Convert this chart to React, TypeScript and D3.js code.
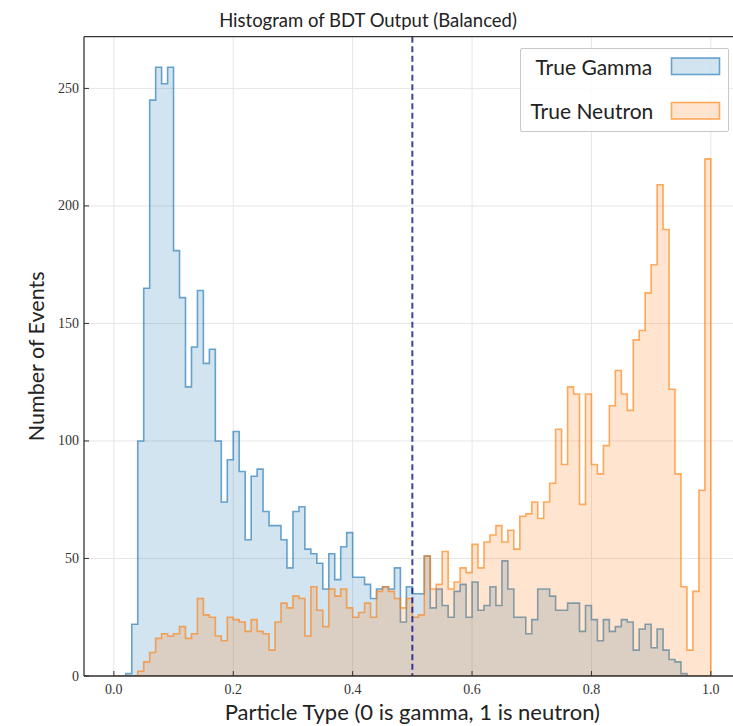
import React from "react";
import * as d3 from "d3";

// Counts per bin (100 bins of width 0.01 over [0, 1])
const gammaCounts = [
  0, 0, 1, 22, 100, 165, 245, 259, 252, 259,
  181, 161, 123, 140, 164, 133, 139, 100, 74, 92,
  104, 87, 58, 85, 88, 70, 64, 64, 58, 46,
  70, 72, 54, 52, 48, 37, 52, 41, 55, 61,
  42, 42, 39, 33, 37, 38, 37, 46, 23, 38,
  35, 35, 51, 29, 37, 30, 25, 36, 39, 25,
  40, 28, 30, 38, 30, 49, 37, 25, 25, 18,
  24, 37, 37, 34, 28, 28, 31, 31, 19, 30,
  24, 15, 24, 19, 21, 24, 23, 11, 20, 22,
  12, 20, 11, 7, 6, 1, 0, 0, 0, 0,
];
const neutronCounts = [
  0, 0, 0, 0, 2, 6, 10, 16, 18, 17,
  18, 21, 16, 18, 33, 26, 25, 17, 15, 25,
  24, 23, 19, 24, 19, 18, 11, 23, 31, 29,
  34, 33, 17, 38, 28, 21, 37, 34, 37, 29,
  25, 27, 31, 25, 36, 38, 36, 33, 29, 33,
  25, 26, 51, 37, 39, 53, 37, 40, 46, 44,
  56, 46, 57, 60, 64, 57, 62, 54, 68, 69,
  74, 67, 74, 82, 105, 90, 123, 120, 73, 120,
  90, 86, 98, 115, 130, 120, 113, 143, 147, 163,
  175, 209, 190, 122, 86, 38, 11, 36, 79, 220,
];
const xTicks = [0, 0.2, 0.4, 0.6, 0.8, 1.0];
const yTicks = [0, 50, 100, 150, 200, 250];
const threshold = 0.5;
const seriesLabels = ["True Gamma", "True Neutron"];
const titleText = "Histogram of BDT Output (Balanced)";
const xLabelText = "Particle Type (0 is gamma, 1 is neutron)";
const yLabelText = "Number of Events";

const W = 733;
const H = 726;
const PLOT = { left: 84, right: 740.7, top: 36.7, bottom: 676 };

const BLUE = "#1f77b4";
const ORANGE = "#ff7f0e";
const SANS = "Lato, 'Open Sans', 'DejaVu Sans', sans-serif";
const SERIF = "'Liberation Serif', 'DejaVu Serif', serif";

export default function App() {
  const x = d3.scaleLinear().domain([-0.05, 1.05]).range([PLOT.left, PLOT.right]);
  const y = d3.scaleLinear().domain([0, 272]).range([PLOT.bottom, PLOT.top]);
  const edges = d3.range(gammaCounts.length + 1).map((i) => i / gammaCounts.length);

  const areaGen = d3
    .area<number>()
    .x((_, i) => x(edges[i]))
    .y0(y(0))
    .y1((d) => y(d))
    .curve(d3.curveStepAfter);

  const pathFor = (counts: number[]) =>
    areaGen([...counts, counts[counts.length - 1]]) || "";

  const series = [
    { counts: gammaCounts, color: BLUE, label: seriesLabels[0] },
    { counts: neutronCounts, color: ORANGE, label: seriesLabels[1] },
  ];

  const plotW = PLOT.right - PLOT.left;
  const plotH = PLOT.bottom - PLOT.top;
  const cx = (PLOT.left + PLOT.right) / 2;
  const cy = (PLOT.top + PLOT.bottom) / 2;

  const legend = { x: 520.5, y: 48.5, w: 208, h: 83 };

  return (
    <svg
      width={W}
      height={H}
      viewBox={`0 0 ${W} ${H}`}
      style={{ position: "absolute", left: 0, top: 0, background: "#fff" }}
    >
      <rect x={0} y={0} width={W} height={H} fill="#fff" />
      <defs>
        <clipPath id="plotclip">
          <rect x={PLOT.left} y={PLOT.top} width={plotW} height={plotH} />
        </clipPath>
      </defs>

      {/* grid */}
      <g stroke="#e6e6e6" strokeWidth={1}>
        {xTicks.map((t) => (
          <line key={"gx" + t} x1={x(t)} x2={x(t)} y1={PLOT.top} y2={PLOT.bottom} />
        ))}
        {yTicks.map((t) => (
          <line key={"gy" + t} x1={PLOT.left} x2={PLOT.right} y1={y(t)} y2={y(t)} />
        ))}
      </g>

      {/* histograms */}
      <g clipPath="url(#plotclip)">
        {series.map((s) => (
          <path
            key={s.label}
            d={pathFor(s.counts)}
            fill={s.color}
            fillOpacity={0.2}
            stroke={s.color}
            strokeOpacity={0.65}
            strokeWidth={1.6}
            strokeLinejoin="miter"
          />
        ))}
        <line
          x1={x(threshold)}
          x2={x(threshold)}
          y1={PLOT.top}
          y2={PLOT.bottom}
          stroke="#00008b"
          strokeOpacity={0.75}
          strokeWidth={2}
          strokeDasharray="6,3.5"
        />
      </g>

      {/* spines */}
      <g stroke="#333" strokeWidth={1.3} fill="none">
        <line x1={PLOT.left} x2={PLOT.left} y1={PLOT.top} y2={PLOT.bottom} />
        <line x1={PLOT.left} x2={PLOT.right} y1={PLOT.bottom} y2={PLOT.bottom} />
        <line x1={PLOT.left} x2={PLOT.right} y1={PLOT.top} y2={PLOT.top} />
        <line x1={PLOT.right} x2={PLOT.right} y1={PLOT.top} y2={PLOT.bottom} />
      </g>

      {/* ticks (inward) */}
      <g stroke="#333" strokeWidth={1}>
        {xTicks.map((t) => (
          <line key={"tx" + t} x1={x(t)} x2={x(t)} y1={PLOT.bottom} y2={PLOT.bottom - 5} />
        ))}
        {yTicks.map((t) => (
          <line key={"ty" + t} x1={PLOT.left} x2={PLOT.left + 5} y1={y(t)} y2={y(t)} />
        ))}
      </g>

      {/* tick labels */}
      <g fontFamily={SERIF} fontSize={14} fill="#333">
        {xTicks.map((t) => (
          <text key={"lx" + t} x={x(t)} y={PLOT.bottom + 18} textAnchor="middle">
            {d3.format(".1f")(t)}
          </text>
        ))}
        {yTicks.map((t) => (
          <text key={"ly" + t} x={PLOT.left - 5} y={y(t) + 4.5} textAnchor="end">
            {t}
          </text>
        ))}
      </g>

      {/* title and axis labels */}
      <text x={368} y={27} textAnchor="middle" fontFamily={SANS} fontSize={18.5} fill="#222">
        {titleText}
      </text>
      <text x={cx} y={720} textAnchor="middle" fontFamily={SANS} fontSize={22} fill="#222">
        {xLabelText}
      </text>
      <text
        transform={`translate(${44},${cy}) rotate(-90)`}
        textAnchor="middle"
        fontFamily={SANS}
        fontSize={21.5}
        fill="#222"
      >
        {yLabelText}
      </text>

      {/* legend */}
      <g>
        <rect
          x={legend.x}
          y={legend.y}
          width={legend.w}
          height={legend.h}
          fill="#fff"
          fillOpacity={0.85}
          stroke="#c8c8c8"
          strokeWidth={1}
          rx={1.5}
        />
        {series.map((s, i) => (
          <g key={"lg" + s.label}>
            <text
              x={legend.x + 10 + (i === 0 ? 5 : 0)}
              y={legend.y + 26 + i * 44}
              fontFamily={SANS}
              fontSize={21}
              fill="#222"
            >
              {s.label}
            </text>
            <rect
              x={671.5}
              y={legend.y + 9.5 + i * 44.5}
              width={48}
              height={16.5}
              fill={s.color}
              fillOpacity={0.2}
              stroke={s.color}
              strokeOpacity={0.65}
              strokeWidth={1.6}
            />
          </g>
        ))}
      </g>
    </svg>
  );
}
